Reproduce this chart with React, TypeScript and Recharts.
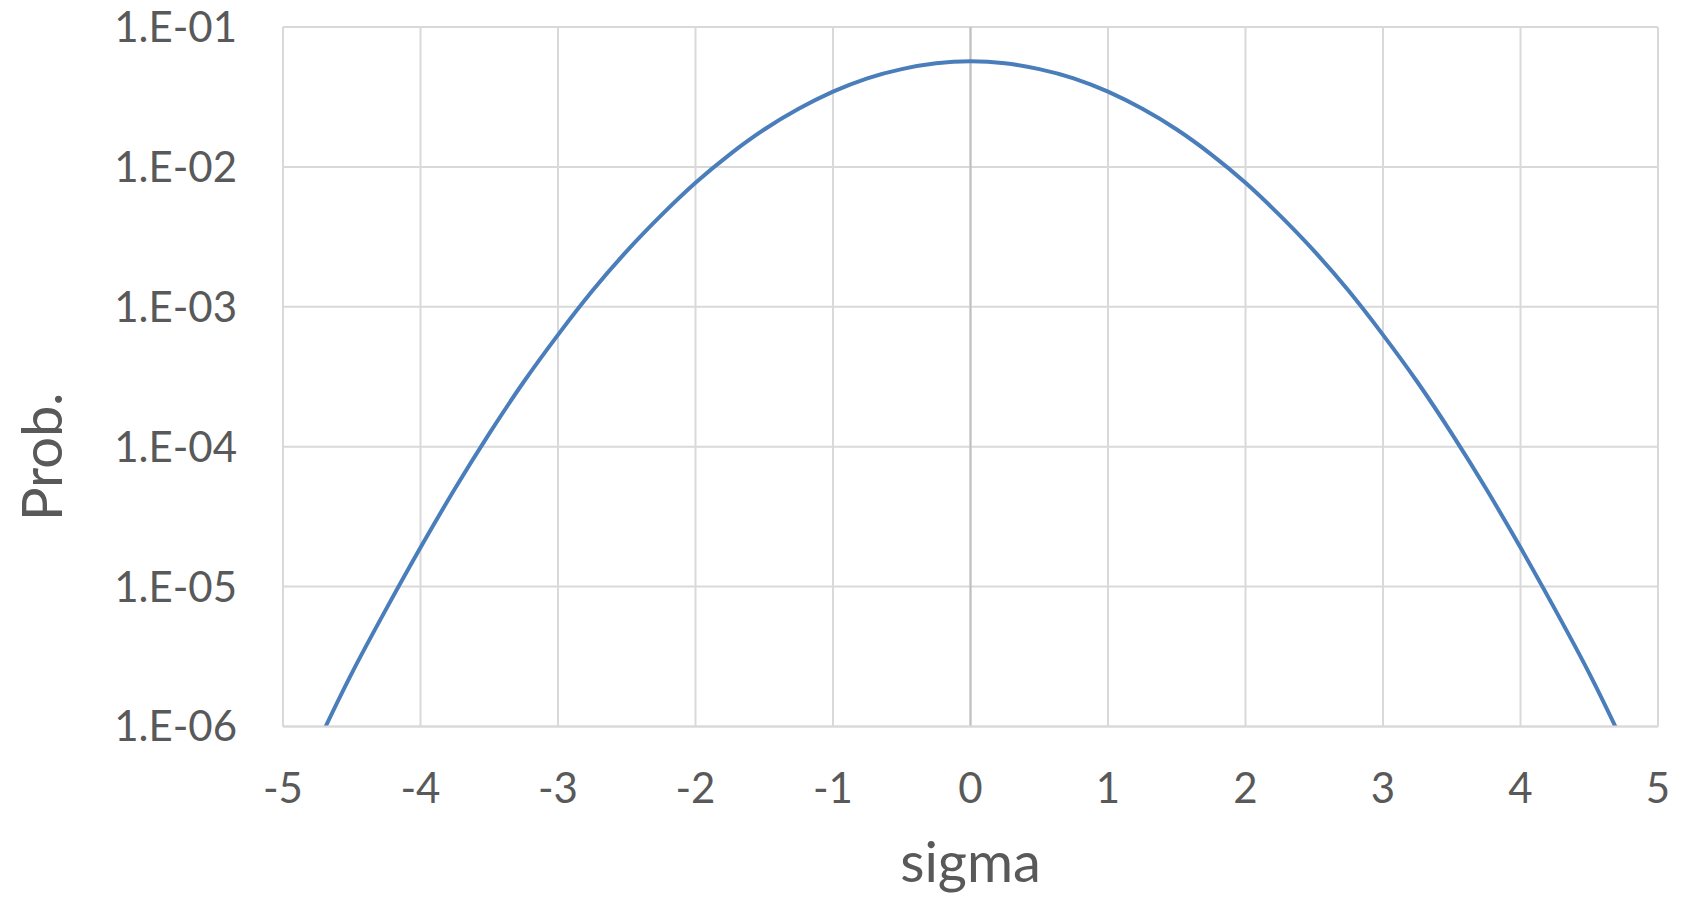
import {
  LineChart,
  Line,
  XAxis,
  YAxis,
  CartesianGrid,
  ReferenceLine,
  Label,
} from 'recharts';

// sigma positions
const sigmaValues = [
  -4.69, -4.5, -4.25, -4.0, -3.75, -3.5, -3.25, -3.0, -2.75, -2.5, -2.25, -2.0,
  -1.75, -1.5, -1.25, -1.0, -0.75, -0.5, -0.25, 0,
  0.25, 0.5, 0.75, 1.0, 1.25, 1.5, 1.75, 2.0, 2.25, 2.5, 2.75, 3.0,
  3.25, 3.5, 3.75, 4.0, 4.25, 4.5, 4.69,
];

// probability at each sigma (log axis)
const probValues = [
  1.0e-6, 2.4e-6, 6.9e-6, 1.9e-5, 5.0e-5, 1.24e-4, 2.9e-4, 6.3e-4, 1.3e-3, 2.5e-3, 4.5e-3, 7.7e-3,
  1.23e-2, 1.85e-2, 2.6e-2, 3.45e-2, 4.3e-2, 5.0e-2, 5.5e-2, 5.68e-2,
  5.5e-2, 5.0e-2, 4.3e-2, 3.45e-2, 2.6e-2, 1.85e-2, 1.23e-2, 7.7e-3, 4.5e-3, 2.5e-3, 1.3e-3, 6.3e-4,
  2.9e-4, 1.24e-4, 5.0e-5, 1.9e-5, 6.9e-6, 2.4e-6, 1.0e-6,
];

const xTicks = [-5, -4, -3, -2, -1, 0, 1, 2, 3, 4, 5];
const yTicks = [1e-6, 1e-5, 1e-4, 1e-3, 1e-2, 1e-1];
const yTickLabels = ['1.E-06', '1.E-05', '1.E-04', '1.E-03', '1.E-02', '1.E-01'];

const data = sigmaValues.map((x, i) => ({ x, p: probValues[i] }));

const FONT = 'Lato, "Open Sans", sans-serif';
const TEXT = '#595959';
const GRID = '#d9d9d9';

const ProbLabel = (props: any) => {
  const vb = props.viewBox || { x: 0, y: 0, width: 0, height: 0 };
  const cx = vb.x + 40;
  const cy = vb.y + vb.height / 2 + 80;
  return (
    <text
      x={cx}
      y={cy}
      transform={`rotate(-90, ${cx}, ${cy})`}
      textAnchor="middle"
      dominantBaseline="central"
      fill={TEXT}
      fontSize={56}
      fontFamily={FONT}
    >
      Prob.
    </text>
  );
};

export default function App() {
  return (
    <div style={{ position: 'absolute', left: 0, top: 0, background: '#ffffff' }}>
      <LineChart
        width={1684}
        height={898}
        data={data}
        margin={{ top: 27, right: 26, bottom: 0, left: 0 }}
      >
        <CartesianGrid stroke={GRID} strokeWidth={2} horizontal vertical />
        <XAxis
          dataKey="x"
          type="number"
          domain={[-5, 5]}
          ticks={xTicks}
          height={171.5}
          tickSize={0}
          tickMargin={46.5}
          tickLine={false}
          axisLine={{ stroke: GRID, strokeWidth: 2 }}
          tick={{ fill: TEXT, fontSize: 42, fontFamily: FONT }}
        >
          <Label
            value="sigma"
            position="insideBottom"
            offset={16}
            fill={TEXT}
            fontSize={56}
            fontFamily={FONT}
          />
        </XAxis>
        <YAxis
          type="number"
          scale="log"
          domain={[1e-6, 1e-1]}
          ticks={yTicks}
          allowDataOverflow
          width={283}
          tickSize={0}
          tickMargin={46}
          tickLine={false}
          axisLine={{ stroke: GRID, strokeWidth: 2 }}
          tick={{ fill: TEXT, fontSize: 42, fontFamily: FONT }}
          tickFormatter={(v: number) => yTickLabels[yTicks.findIndex((t) => Math.abs(t - v) / t < 1e-6)] ?? ''}
        >
          <Label content={<ProbLabel />} />
        </YAxis>
        <ReferenceLine x={0} stroke="#bfbfbf" strokeWidth={2} />
        <Line
          type="natural"
          dataKey="p"
          stroke="#4a7ebb"
          strokeWidth={4}
          dot={false}
          activeDot={false}
          isAnimationActive={false}
        />
      </LineChart>
    </div>
  );
}
